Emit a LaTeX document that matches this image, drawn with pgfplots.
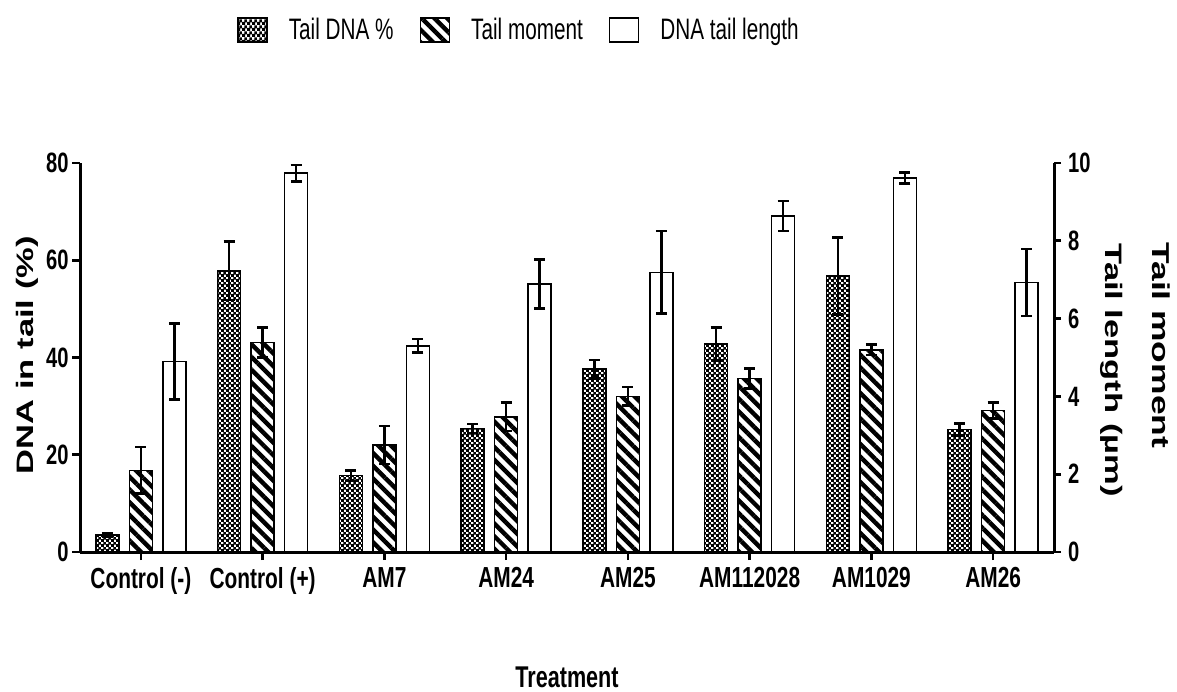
\documentclass[border=0pt]{standalone}
\usepackage{fontspec}
\usepackage{pgfplots}
\usepackage{pgfplotstable}
\pgfplotsset{compat=1.18}
\usetikzlibrary{patterns,patterns.meta}
\setmainfont{Liberation Sans}
\newfontfamily\narrowfont{Liberation Sans}[FakeStretch=0.72]
\newfontfamily\legfont{Liberation Sans}[FakeStretch=0.70]
\newfontfamily\widefont{Liberation Sans}[FakeStretch=1.45]

\pgfdeclarepatternformonly{fchecker}{\pgfqpoint{0pt}{0pt}}{\pgfqpoint{2.7pt}{2.7pt}}{\pgfqpoint{2.7pt}{2.7pt}}{%
  \pgfpathrectangle{\pgfqpoint{0pt}{0pt}}{\pgfqpoint{1.65pt}{1.65pt}}%
  \pgfpathrectangle{\pgfqpoint{1.35pt}{1.35pt}}{\pgfqpoint{1.65pt}{1.65pt}}%
  \pgfusepath{fill}}

\pgfplotstableread{
x y e
0 3.5 0.4
1 57.8 6.0
2 15.7 1.1
3 25.4 0.9
4 37.6 1.9
5 42.8 3.4
6 56.8 7.9
7 25.2 1.2
}\tdna
\pgfplotstableread{
x y e
0 16.8 4.8
1 43.1 3.1
2 22.0 3.9
3 27.8 2.9
4 32.0 1.9
5 35.7 2.1
6 41.6 1.1
7 29.1 1.7
}\tmoment
\pgfplotstableread{
x y e
0 39.2 7.8
1 77.9 1.7
2 42.4 1.4
3 55.1 5.0
4 57.5 8.5
5 69.1 3.1
6 76.9 1.1
7 55.4 6.9
}\tlength

\pgfplotsset{
  mylegend/.style={legend image code/.code={%
    \draw[##1,line width=0.8pt] (0pt,-6pt) rectangle (14.5pt,6pt);
    \path (25pt,0pt);}},
  myerr/.style={error bars/.cd, y dir=both, y explicit,
    error bar style={line width=1.3pt,black},
    error mark options={rotate=90,mark size=2.7pt,line width=1.3pt,black}},
}

\begin{document}
\begin{tikzpicture}
\useasboundingbox (0,0) rectangle (588.5pt,345.5pt);
\begin{axis}[
  at={(40pt,69.5pt)}, anchor=south west,
  scale only axis, width=487pt, height=194.5pt,
  clip=false,
  ybar=5.25pt, bar width=11.5pt,
  xmin=-0.5, xmax=7.5, ymin=0, ymax=80,
  axis x line*=bottom, axis y line*=left,
  axis line style={-, line width=1.5pt},
  every outer x axis line/.append style={-},
  every outer y axis line/.append style={-},
  tick align=outside, major tick length=4pt,
  major tick style={line width=1.3pt, black},
  xtick={0,...,7},
  xticklabels={Control (-),Control (+),AM7,AM24,AM25,AM112028,AM1029,AM26},
  ytick={0,20,40,60,80},
  /pgf/number format/assume math mode=true,
  yticklabel style={font=\narrowfont\bfseries\fontsize{14pt}{14pt}\selectfont, inner xsep=1.5pt},
  xticklabel style={font=\narrowfont\bfseries\fontsize{14.5pt}{14.5pt}\selectfont},
  xlabel={Treatment},
  xlabel style={at={(axis description cs:0.5,-0.321)}, anchor=center,
    font=\narrowfont\bfseries\fontsize{15pt}{15pt}\selectfont},
  legend columns=3,
  legend style={at={(0.161,1.342)}, anchor=west, draw=none, fill=none, inner sep=0pt,
    font=\legfont\fontsize{14.8pt}{14.8pt}\selectfont,
    /tikz/every even column/.append style={column sep=13pt},
    nodes={inner sep=0pt, anchor=west}},
]
\addplot[draw=black, line width=0.8pt, pattern=fchecker, pattern color=black, mylegend, myerr]
  table[x=x, y=y, y error=e] {\tdna};
\addlegendentry{Tail DNA \%}
\addplot[draw=black, line width=0.8pt, pattern={Lines[angle=-45,distance=4.5pt,line width=2.2pt]}, pattern color=black, mylegend, myerr]
  table[x=x, y=y, y error=e] {\tmoment};
\addlegendentry{Tail moment}
\addplot[draw=black, line width=0.8pt, fill=white, mylegend, myerr]
  table[x=x, y=y, y error=e] {\tlength};
\addlegendentry{DNA tail length}
\node[rotate=90, font=\widefont\bfseries\fontsize{11.9pt}{12pt}\selectfont] at (rel axis cs:-0.0544,0.506) {DNA in tail (\%)};
\end{axis}
\begin{axis}[
  at={(40pt,69.5pt)}, anchor=south west,
  scale only axis, width=487pt, height=194.5pt,
  clip=false,
  xmin=-0.5, xmax=7.5, ymin=0, ymax=10,
  hide x axis,
  axis y line*=right,
  axis line style={-, line width=1.5pt},
  every outer y axis line/.append style={-},
  tick align=outside, major tick length=3.5pt,
  major tick style={line width=1.3pt, black},
  ytick={0,2,4,6,8,10},
  /pgf/number format/assume math mode=true,
  yticklabel style={font=\narrowfont\bfseries\fontsize{14pt}{14pt}\selectfont},
]
\addplot[draw=none, forget plot] coordinates {(0,0)};
\node[rotate=-90, anchor=west, inner sep=0pt, font=\widefont\bfseries\fontsize{11.9pt}{12pt}\selectfont] at (rel axis cs:1.0595,0.794) {Tail length (µm)};
\node[rotate=-90, anchor=west, inner sep=0pt, font=\widefont\bfseries\fontsize{12.2pt}{12pt}\selectfont] at (rel axis cs:1.1099,0.797) {Tail moment};
\end{axis}
\end{tikzpicture}
\end{document}
